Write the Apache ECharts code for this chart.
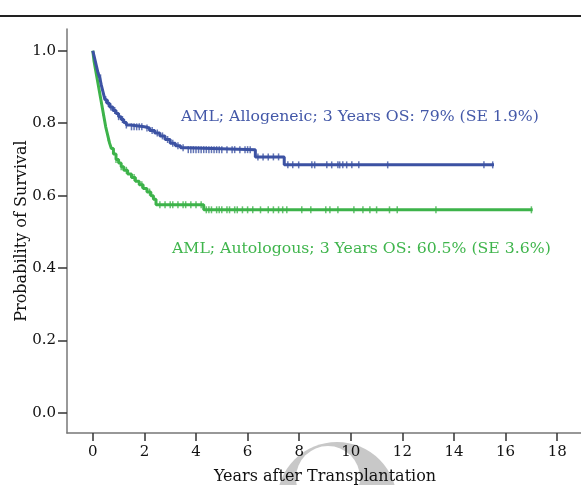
<!DOCTYPE html>
<html>
<head>
<meta charset="utf-8">
<script src="https://cdn.jsdelivr.net/npm/echarts@6/dist/echarts.min.js"></script>
<style>html,body{margin:0;padding:0;background:#fff;}#c{width:581px;height:485px;}</style>
</head>
<body>
<div id="c"></div>
<script>
// Allogeneic: [years, survival] after each drop
const alloTimes = [0, 0.05, 0.1, 0.15, 0.2, 0.27, 0.33, 0.4, 0.47, 0.55, 0.65, 0.78, 0.9, 1.0, 1.1, 1.2, 1.3, 1.45, 2.0, 2.2, 2.4, 2.6, 2.8, 3.0, 3.2, 3.4, 3.6, 6.3, 7.42, 15.55];
const alloSurv  = [1.0, 0.985, 0.97, 0.955, 0.94, 0.925, 0.905, 0.885, 0.865, 0.855, 0.845, 0.835, 0.827, 0.818, 0.81, 0.802, 0.795, 0.79, 0.787, 0.78, 0.773, 0.765, 0.755, 0.745, 0.738, 0.732, 0.727, 0.707, 0.685, 0.685];
const alloCensor = [0.3, 0.5, 0.6, 0.7, 0.85, 1.0, 1.15, 1.3, 1.5, 1.6, 1.7, 1.8, 1.9, 2.1, 2.3, 2.5, 2.7, 2.9, 3.1, 3.3, 3.5, 3.7, 3.8, 3.9, 4.0, 4.1, 4.2, 4.3, 4.4, 4.5, 4.6, 4.7, 4.8, 4.9, 5.0, 5.2, 5.4, 5.5, 5.7, 5.9, 6.0, 6.1, 6.4, 6.6, 6.8, 7.0, 7.2, 7.56, 7.75, 7.98, 8.49, 8.6, 9.07, 9.26, 9.5, 9.57, 9.69, 9.84, 10.04, 10.31, 11.43, 15.16, 15.5];

// Autologous
const autoTimes = [0, 0.05, 0.1, 0.15, 0.2, 0.25, 0.3, 0.35, 0.4, 0.45, 0.5, 0.55, 0.6, 0.65, 0.72, 0.8, 0.9, 1.0, 1.1, 1.2, 1.35, 1.5, 1.65, 1.8, 1.95, 2.1, 2.25, 2.35, 2.45, 4.3, 17.05];
const autoSurv  = [1.0, 0.97, 0.95, 0.93, 0.91, 0.89, 0.87, 0.85, 0.83, 0.81, 0.79, 0.775, 0.76, 0.745, 0.73, 0.715, 0.70, 0.69, 0.68, 0.67, 0.66, 0.65, 0.64, 0.63, 0.62, 0.61, 0.60, 0.59, 0.575, 0.561, 0.561];
const autoCensor = [0.2, 0.4, 0.6, 0.9, 1.1, 1.3, 1.6, 1.9, 2.2, 2.6, 2.8, 3.0, 3.1, 3.3, 3.5, 3.6, 3.8, 4.0, 4.2, 4.4, 4.5, 4.6, 4.8, 4.9, 5.0, 5.2, 5.3, 5.5, 5.6, 5.8, 6.0, 6.2, 6.5, 6.8, 7.0, 7.2, 7.36, 7.52, 8.1, 8.45, 9.03, 9.19, 9.5, 10.12, 10.47, 10.74, 11.0, 11.5, 11.8, 13.3, 17.0];

const xTicks = [0, 2, 4, 6, 8, 10, 12, 14, 16, 18];
const yTicks = [0.0, 0.2, 0.4, 0.6, 0.8, 1.0];

const alloLabel = 'AML; Allogeneic; 3 Years OS: 79% (SE 1.9%)';
const autoLabel = 'AML; Autologous; 3 Years OS: 60.5% (SE 3.6%)';

const BLUE = '#3c52a3';
const GREEN = '#3db34a';
const AXIS = '#777777';
const FONT = 'DejaVu Serif';

function pairs(t, s) { return t.map((v, i) => [v, s[i]]); }
function survAt(t, times, surv) {
  let v = surv[0];
  for (let i = 0; i < times.length; i++) { if (times[i] <= t) v = surv[i]; }
  return v;
}
function censorPts(c, times, surv) { return c.map(t => [t, survAt(t, times, surv)]); }

const chart = echarts.init(document.getElementById('c'), null, {renderer: 'canvas'});
chart.setOption({
  animation: false,
  backgroundColor: '#ffffff',
  grid: {left: 67, top: 29, width: 516, height: 404, containLabel: false, outerBoundsMode: 'none'},
  xAxis: {
    type: 'value', min: -1, max: 19,
    axisLine: {show: true, onZero: false, lineStyle: {color: AXIS, width: 1.5}},
    axisTick: {show: true, customValues: xTicks, length: 8, inside: false, lineStyle: {color: '#333', width: 1.5}},
    axisLabel: {customValues: xTicks, margin: 12, color: '#111', fontFamily: FONT, fontSize: 15},
    splitLine: {show: false},
    name: 'Years after Transplantation', nameLocation: 'middle', nameGap: 36, nameMoveOverlap: false,
    nameTextStyle: {color: '#111', fontFamily: FONT, fontSize: 16}
  },
  yAxis: {
    type: 'value', min: -0.055, max: 1.06,
    axisLine: {show: true, onZero: false, lineStyle: {color: AXIS, width: 1.5}},
    axisTick: {show: true, customValues: yTicks, length: 9, inside: false, lineStyle: {color: '#333', width: 1.5}},
    axisLabel: {customValues: yTicks, margin: 11, color: '#111', fontFamily: FONT, fontSize: 15,
      formatter: v => v.toFixed(1)},
    splitLine: {show: false},
    name: 'Probability of Survival', nameLocation: 'middle', nameGap: 37, nameMoveOverlap: false,
    nameTextStyle: {color: '#111', fontFamily: FONT, fontSize: 16}
  },
  graphic: [
    {type: 'rect', shape: {x: 0, y: 15, width: 581, height: 2}, style: {fill: '#222'}, z: 10},
    {type: 'circle', shape: {cx: 337, cy: 502, r: 60}, style: {fill: '#c8c8c8'}, z: -2, silent: true},
    {type: 'circle', shape: {cx: 328, cy: 478, r: 32}, style: {fill: '#ffffff'}, z: -1, silent: true},
    {type: 'text', left: 181, top: 109, style: {text: alloLabel, fill: '#4358a8', font: '15.7px "' + FONT + '"'}, z: 10},
    {type: 'text', left: 172, top: 241, style: {text: autoLabel, fill: '#3fb54c', font: '15.7px "' + FONT + '"'}, z: 10}
  ],
  series: [
    {type: 'line', step: 'end', data: pairs(autoTimes, autoSurv), showSymbol: false, lineStyle: {color: GREEN, width: 3}, z: 2},
    {type: 'scatter', data: censorPts(autoCensor, autoTimes, autoSurv), symbol: 'rect', symbolSize: [1.5, 7], itemStyle: {color: GREEN}, z: 2},
    {type: 'line', step: 'end', data: pairs(alloTimes, alloSurv), showSymbol: false, lineStyle: {color: BLUE, width: 3}, z: 3},
    {type: 'scatter', data: censorPts(alloCensor, alloTimes, alloSurv), symbol: 'rect', symbolSize: [1.5, 7], itemStyle: {color: BLUE}, z: 3}
  ]
});
</script>
</body>
</html>
